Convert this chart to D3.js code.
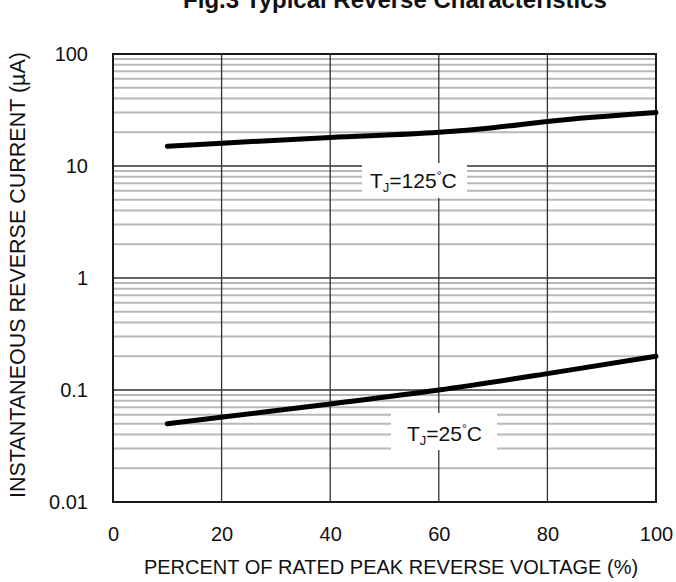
<!DOCTYPE html>
<html>
<head>
<meta charset="utf-8">
<script src="https://cdn.jsdelivr.net/npm/d3@7"></script>
<style>
    body { margin: 0; background: #fff; }
    svg { font-family: "Liberation Sans", Arial, sans-serif; }
    .tick text { font-size: 20px; fill: #111; }
    .domain { display: none; }
</style>
</head>
<body>
<div class="chart"></div>
<script>
// values
const xTicks = [0, 20, 40, 60, 80, 100];
const yTicks = [0.01, 0.1, 1, 10, 100];
const yTickLabels = ["0.01", "0.1", "1", "10", "100"];

const pct125 = [10, 20, 40, 60, 70, 80, 100];
const cur125 = [15, 16, 18, 20, 22, 25, 30];

const pct25 = [10, 40, 60, 80, 100];
const cur25 = [0.05, 0.075, 0.1, 0.14, 0.2];

const width = 676;
const height = 582;
const plot = {left: 113, right: 656, top: 54, bottom: 502};

const x = d3.scaleLinear().domain([0, 100]).range([plot.left, plot.right]);
const y = d3.scaleLog().domain([0.01, 100]).range([plot.bottom, plot.top]);

const svg = d3.select(".chart")
    .append("svg")
    .attr("width", width)
    .attr("height", height);

drawGrid();
drawCurves();
drawLabels();
drawAxes();

function drawGrid() {
    // minor lines 2..9 in every decade
    const minor = [];
    yTicks.slice(0, -1).forEach((d) => {
        for (let k = 2; k <= 9; k++) {
            minor.push(d * k);
        }
    });

    svg.append("g")
        .selectAll("line")
        .data(minor)
        .enter()
        .append("line")
        .attr("x1", plot.left)
        .attr("x2", plot.right)
        .attr("y1", (d) => y(d))
        .attr("y2", (d) => y(d))
        .style("stroke", "#b8b8b8")
        .style("stroke-width", 2);

    svg.append("g")
        .selectAll("line")
        .data(yTicks.slice(1, -1))
        .enter()
        .append("line")
        .attr("x1", plot.left)
        .attr("x2", plot.right)
        .attr("y1", (d) => y(d))
        .attr("y2", (d) => y(d))
        .style("stroke", "#333")
        .style("stroke-width", 1.3);

    svg.append("g")
        .selectAll("line")
        .data(xTicks.slice(1, -1))
        .enter()
        .append("line")
        .attr("x1", (d) => x(d))
        .attr("x2", (d) => x(d))
        .attr("y1", plot.top)
        .attr("y2", plot.bottom)
        .style("stroke", "#333")
        .style("stroke-width", 1.3);

    svg.append("rect")
        .attr("x", plot.left)
        .attr("y", plot.top)
        .attr("width", plot.right - plot.left)
        .attr("height", plot.bottom - plot.top)
        .style("fill", "none")
        .style("stroke", "#1a1a1a")
        .style("stroke-width", 2);
}

function drawCurves() {
    const line = d3.line()
        .x((d) => x(d[0]))
        .y((d) => y(d[1]))
        .curve(d3.curveMonotoneX);

    [[pct125, cur125], [pct25, cur25]].forEach((s) => {
        svg.append("path")
            .attr("d", line(d3.zip(s[0], s[1])))
            .style("fill", "none")
            .style("stroke", "#000")
            .style("stroke-width", 5)
            .style("stroke-linecap", "round");
    });
}

function drawLabels() {
    // [temperature, box left, box top, box right, box bottom, text x, baseline]
    const labels = [
        ["125", 362, 163, 467, 198, 370, 188],
        ["25", 391, 413, 497, 450, 407, 441]
    ];

    labels.forEach((l) => {
        svg.append("rect")
            .attr("x", l[1])
            .attr("y", l[2])
            .attr("width", l[3] - l[1])
            .attr("height", l[4] - l[2])
            .style("fill", "#fff");

        const t = svg.append("text")
            .attr("x", l[5])
            .attr("y", l[6])
            .style("font-size", "21px")
            .style("fill", "#111");
        t.append("tspan").text("T");
        t.append("tspan").attr("dy", 4).style("font-size", "13px").text("J");
        t.append("tspan").attr("dy", -4).text("=" + l[0]);
        t.append("tspan").attr("dy", -8).style("font-size", "12px").text("°");
        t.append("tspan").attr("dy", 8).text("C");
    });
}

function drawAxes() {
    svg.append("g")
        .attr("transform", `translate(${plot.left - 22},0)`)
        .call(d3.axisLeft(y).tickValues(yTicks).tickSize(0)
            .tickFormat((d, i) => yTickLabels[i]));

    svg.append("g")
        .attr("transform", `translate(0,${plot.bottom + 22})`)
        .call(d3.axisBottom(x).tickValues(xTicks).tickSize(0));

    svg.append("text")
        .attr("x", 391)
        .attr("y", 574)
        .attr("text-anchor", "middle")
        .style("font-size", "20px")
        .style("fill", "#111")
        .text("PERCENT OF RATED PEAK REVERSE VOLTAGE (%)");

    svg.append("text")
        .attr("transform", "translate(25,275) rotate(-90)")
        .attr("text-anchor", "middle")
        .style("font-size", "21.5px")
        .style("fill", "#111")
        .text("INSTANTANEOUS REVERSE CURRENT (µA)");

    // the title sits partly above the top edge, as in the reference
    svg.append("text")
        .attr("x", 395)
        .attr("y", 8)
        .attr("text-anchor", "middle")
        .style("font-size", "24px")
        .style("font-weight", "bold")
        .style("fill", "#111")
        .text("Fig.3 Typical Reverse Characteristics");
}
</script>
</body>
</html>
